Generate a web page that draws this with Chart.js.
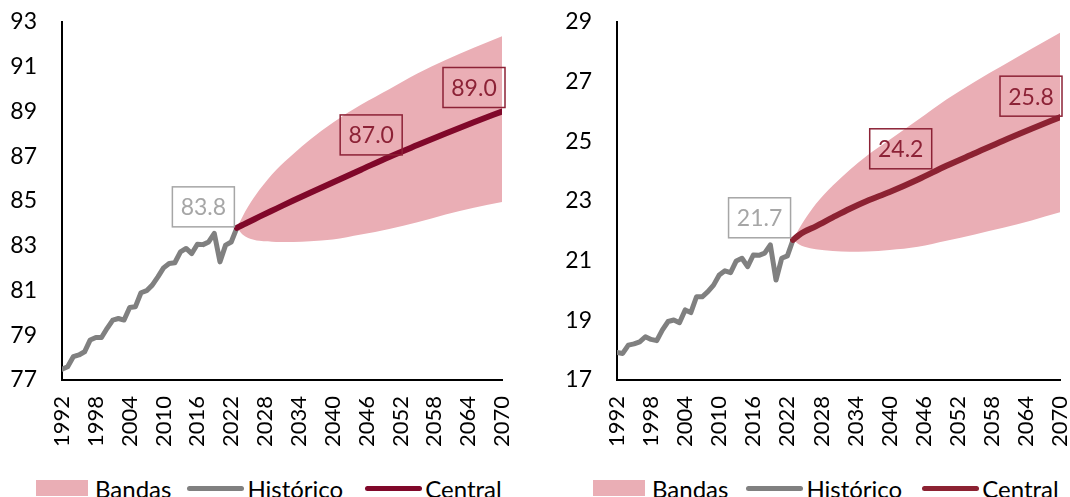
<!DOCTYPE html>
<html>
<head>
<meta charset="utf-8">
<script src="https://cdn.jsdelivr.net/npm/chart.js@4.4.1/dist/chart.umd.min.js"></script>
<style>
  body { margin: 0; width: 1070px; height: 497px; position: relative; background: #fff; overflow: hidden; font-family: Lato, sans-serif; }
  .panel { position: absolute; top: 0; width: 535px; height: 497px; }
  .panel canvas { position: absolute; left: 0; top: 0; }
  .legend { position: absolute; top: 475px; height: 26px; display: flex; align-items: center; font-size: 24px; color: #000; white-space: nowrap; }
  .legend .item { display: flex; align-items: center; }
  .legend .rect { width: 52px; height: 16px; background: #eaaeb5; margin-right: 7px; }
  .legend .line { width: 57px; height: 5px; border-radius: 3px; margin-right: 3px; }
</style>
</head>
<body>
<div class="panel" style="left:0">
  <canvas id="left" width="535" height="470"></canvas>
  <div class="legend" style="left:36px">
    <div class="item"><span class="rect"></span>Bandas</div>
    <div class="item" style="margin-left:16px"><span class="line" style="background:#808080"></span>Histórico</div>
    <div class="item" style="margin-left:22px"><span class="line" style="background:#80082a"></span>Central</div>
  </div>
</div>
<div class="panel" style="left:535px">
  <canvas id="right" width="535" height="470"></canvas>
  <div class="legend" style="left:58px">
    <div class="item"><span class="rect"></span>Bandas</div>
    <div class="item" style="margin-left:18px"><span class="line" style="background:#808080"></span>Histórico</div>
    <div class="item" style="margin-left:20px"><span class="line" style="background:#8c2232"></span>Central</div>
  </div>
</div>
<script>
// years
const histYears = [1992, 1993, 1994, 1995, 1996, 1997, 1998, 1999, 2000, 2001, 2002, 2003, 2004, 2005, 2006, 2007,
    2008, 2009, 2010, 2011, 2012, 2013, 2014, 2015, 2016, 2017, 2018, 2019, 2020, 2021, 2022, 2023];
const projYears = [2023, 2024, 2025, 2027, 2030, 2033, 2036, 2040, 2045, 2050, 2055, 2060, 2065, 2070];
const xTicks = [1992, 1998, 2004, 2010, 2016, 2022, 2028, 2034, 2040, 2046, 2052, 2058, 2064, 2070];

// left panel
const leftHist = [77.48, 77.59, 78.04, 78.12, 78.26, 78.79, 78.9, 78.9, 79.31, 79.68, 79.75, 79.68, 80.24, 80.27, 80.9, 80.99,
    81.24, 81.61, 82.01, 82.21, 82.24, 82.73, 82.88, 82.65, 83.07, 83.05, 83.17, 83.55, 82.28, 83.03, 83.17, 83.8];
const leftCentral = [83.8, 83.93, 84.05, 84.3, 84.66, 85.02, 85.37, 85.83, 86.4, 86.97, 87.5, 88.02, 88.52, 89.0];
const leftUpper = [83.8, 84.3, 84.75, 85.5, 86.4, 87.1, 87.75, 88.5, 89.3, 90.0, 90.7, 91.3, 91.85, 92.36];
const leftLower = [83.8, 83.5, 83.35, 83.22, 83.17, 83.17, 83.2, 83.28, 83.5, 83.75, 84.05, 84.4, 84.7, 84.96];
const leftYTicks = [77, 79, 81, 83, 85, 87, 89, 91, 93];

// right panel
const rightHist = [17.92, 17.89, 18.17, 18.21, 18.28, 18.45, 18.36, 18.32, 18.68, 18.96, 19.01, 18.92, 19.35, 19.26, 19.79, 19.79,
    19.96, 20.18, 20.52, 20.66, 20.6, 20.99, 21.08, 20.8, 21.19, 21.18, 21.25, 21.53, 20.35, 21.08, 21.16, 21.7];
const rightCentral = [21.7, 21.85, 21.97, 22.15, 22.45, 22.74, 23.0, 23.3, 23.72, 24.18, 24.6, 25.02, 25.42, 25.81];
const rightUpper = [21.7, 22.05, 22.36, 22.9, 23.52, 24.05, 24.52, 25.05, 25.72, 26.4, 27.0, 27.55, 28.1, 28.64];
const rightLower = [21.7, 21.55, 21.47, 21.38, 21.32, 21.3, 21.31, 21.36, 21.47, 21.67, 21.88, 22.1, 22.35, 22.62];
const rightYTicks = [17, 19, 21, 23, 25, 27, 29];

const bandColor = '#eaaeb5';
const histColor = '#808080';

function pts(xs, ys) {
    return xs.map((x, i) => ({ x: x, y: ys[i] }));
}

function valueAt(xs, ys, year) {
    return ys[xs.indexOf(year)];
}

// boxed value labels drawn on top of the lines
const boxLabels = {
    id: 'boxLabels',
    afterDatasetsDraw(chart, args, opts) {
        const { ctx, scales: { x, y } } = chart;
        ctx.save();
        ctx.font = '23px Lato';
        ctx.textAlign = 'center';
        ctx.textBaseline = 'middle';
        opts.items.forEach(it => {
            const px = x.getPixelForValue(it.year) + it.dx;
            const py = y.getPixelForValue(it.value) + it.dy;
            ctx.strokeStyle = it.color;
            ctx.lineWidth = 1.5;
            ctx.strokeRect(px - 31, py - 20, 62, 40);
            ctx.fillStyle = it.color;
            ctx.fillText(it.value.toFixed(1), px, py + 1);
        });
        ctx.restore();
    }
};

function makeChart(id, p) {
    const ctx = document.getElementById(id).getContext('2d');
    return new Chart(ctx, {
        type: 'line',
        data: {
            datasets: [
                { label: 'lower', data: pts(projYears, p.lower), borderWidth: 0, pointRadius: 0, fill: false,
                  cubicInterpolationMode: 'monotone', order: 3 },
                { label: 'Bandas', data: pts(projYears, p.upper), borderWidth: 0, pointRadius: 0, fill: '-1',
                  backgroundColor: bandColor, cubicInterpolationMode: 'monotone', order: 2 },
                { label: 'Histórico', data: pts(histYears, p.hist), borderColor: histColor, borderWidth: 5,
                  pointRadius: 0, borderJoinStyle: 'round', borderCapStyle: 'round', order: 1 },
                { label: 'Central', data: pts(projYears, p.central), borderColor: p.centralColor, borderWidth: 6,
                  pointRadius: 0, borderCapStyle: 'round', cubicInterpolationMode: 'monotone', order: 0 }
            ]
        },
        options: {
            responsive: false,
            animation: false,
            events: [],
            layout: { padding: { left: 0, right: p.padRight, top: 22, bottom: 0 } },
            scales: {
                x: {
                    type: 'linear',
                    min: 1992,
                    max: 2070,
                    grid: { display: false, drawTicks: false },
                    border: { display: true, color: '#000', width: 2 },
                    ticks: {
                        color: '#000',
                        font: { family: 'Lato', size: 22 },
                        padding: 16,
                        maxRotation: 90,
                        minRotation: 90,
                        autoSkip: false,
                        callback: v => String(v)
                    },
                    afterBuildTicks: s => { s.ticks = xTicks.map(v => ({ value: v })); },
                    afterFit: s => { s.height = 90; s.paddingLeft = 0; s.paddingRight = 0; }
                },
                y: {
                    min: p.yTicks[0],
                    max: p.yTicks[p.yTicks.length - 1],
                    grid: { display: false, drawTicks: false },
                    border: { display: true, color: '#000', width: 2 },
                    ticks: {
                        color: '#000',
                        font: { family: 'Lato', size: 23 },
                        padding: 25,
                        callback: v => String(v)
                    },
                    afterBuildTicks: s => { s.ticks = p.yTicks.map(v => ({ value: v })); },
                    afterFit: s => { s.width = p.axisWidth; s.paddingTop = 0; s.paddingBottom = 0; }
                }
            },
            plugins: {
                legend: { display: false },
                tooltip: { enabled: false },
                boxLabels: { items: p.labels }
            }
        },
        plugins: [boxLabels]
    });
}

makeChart('left', {
    hist: leftHist, central: leftCentral, upper: leftUpper, lower: leftLower, yTicks: leftYTicks,
    centralColor: '#80082a', axisWidth: 62, padRight: 33,
    labels: [
        { year: 2023, value: valueAt(histYears, leftHist, 2023), color: '#a6a6a6', dx: -33.5, dy: -21 },
        { year: 2050, value: valueAt(projYears, leftCentral, 2050), color: '#8c2236', dx: -18, dy: -22 },
        { year: 2070, value: valueAt(projYears, leftCentral, 2070), color: '#8c2236', dx: -28, dy: -24 }
    ]
});

makeChart('right', {
    hist: rightHist, central: rightCentral, upper: rightUpper, lower: rightLower, yTicks: rightYTicks,
    centralColor: '#8c2232', axisWidth: 82, padRight: 10,
    labels: [
        { year: 2023, value: valueAt(histYears, rightHist, 2023), color: '#a6a6a6', dx: -33.5, dy: -22 },
        { year: 2050, value: valueAt(projYears, rightCentral, 2050), color: '#8c2236', dx: -45.7, dy: -17 },
        { year: 2070, value: valueAt(projYears, rightCentral, 2070), color: '#8c2236', dx: -29, dy: -21 }
    ]
});
</script>
</body>
</html>
